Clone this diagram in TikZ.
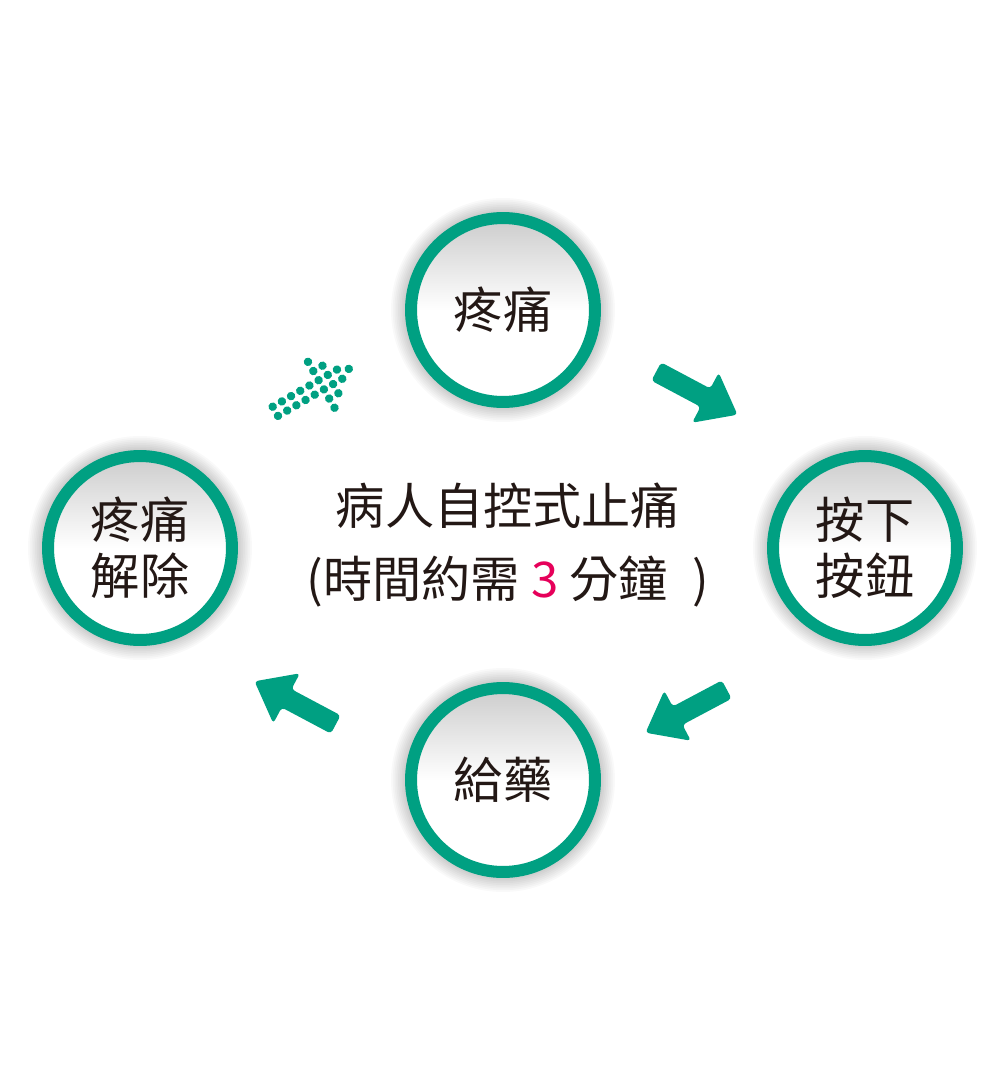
\documentclass[tikz,border=0pt]{standalone}
\usepackage{fontspec}
\setmainfont{Noto Sans CJK TC}
\usepackage{tikz}
\usetikzlibrary{shapes,arrows,backgrounds,positioning}
\definecolor{Green}{RGB}{0,160,130}
\definecolor{Ink}{HTML}{231815}
\definecolor{Hot}{RGB}{230,0,90}

\begin{document}
\begin{tikzpicture}[x=0.02cm, y=-0.02cm]
	\tikzstyle{Stage}	= [circle, draw=Green, line width=0.24cm, minimum size=3.68cm, inner sep=0pt, top color=black!20, bottom color=white, middle color=white, text=Ink, font=\fontsize{28}{32}\selectfont, align=center]
	\tikzstyle{Push}	= [single arrow, fill=Green, minimum height=1.84cm, inner xsep=0pt, inner ysep=0.2cm, single arrow head extend=0.36cm, single arrow tip angle=76, rounded corners=2pt]
	\tikzstyle{Dot}		= [fill=Green]
	\tikzstyle{Caption}	= [text=Ink, font=\fontsize{28}{42}\selectfont, align=center]

	\useasboundingbox (0,0) rectangle (1005,1091);

	\node (s1) at (503,310) [Stage] {疼痛};
	\node (s2) at (865,548) [Stage] {按下\\按鈕};
	\node (s3) at (503,780) [Stage] {給藥};
	\node (s4) at (140,548) [Stage] {疼痛\\解除};

	\node (t) at (508,545) [Caption] {病人自控式止痛\\(時間約需 {\color{Hot}3} 分鐘\hspace{8pt} )};

	\node (a1) at (691,390) [Push, rotate=-28] {};
	\node (a2) at (692,708) [Push, rotate=208] {};
	\node (a3) at (301,706) [Push, rotate=152] {};

	% dotted arrow
	\begin{scope}[shift={(272.7,406.7)}, rotate=30]
		\foreach \i/\j in {0/0,1/0,2/0,3/0,4/0,0/1,1/1,2/1,3/1,4/1,5/-2,5/-1,5/0,5/1,5/2,5/3,6/-1,6/0,6/1,6/2,7/0,7/1,8/0.5}
			\fill[Dot] (10.6*\i,10.6*\j) circle[radius=0.085cm];
	\end{scope}

	\begin{scope}[on background layer]
		\fill[white] (0,0) rectangle (1005,1091);
		\foreach \n in {s1,s2,s3,s4}
			\foreach \k in {1,...,8}
				\fill[black, opacity=0.022] (\n.center) circle[radius={1.96cm+0.035cm*\k}];
	\end{scope}
\end{tikzpicture}
\end{document}
